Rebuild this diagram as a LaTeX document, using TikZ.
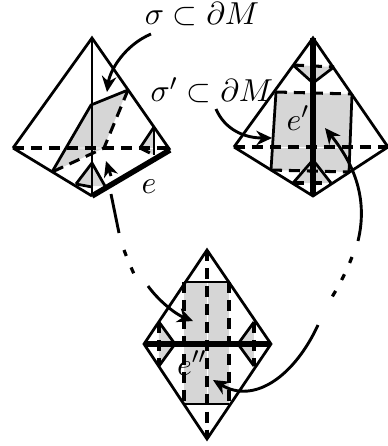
\documentclass[tikz,border=0pt]{standalone}
\usepackage{amsmath}
\usepackage{amsfonts}
\usepackage{amssymb}
\usepackage{xcolor}
\usetikzlibrary{shapes,arrows.meta}
\definecolor{facegrey}{gray}{0.84}
\tikzset{
  edgeline/.style={line width=0.95pt},
  thickedge/.style={line width=1.9pt},
  hiddenline/.style={line width=1.05pt,dash pattern=on 3.8pt off 2.4pt},
  seam/.style={white,line width=0.3pt},
  face/.style={fill=facegrey,draw=none},
  curvearrow/.style={line width=1pt,-{Stealth[length=5.4pt,width=5pt]}},
  curveline/.style={line width=1pt},
  dotline/.style={line width=1.1pt,dash pattern=on 2.2pt off 4.3pt},
  labeltext/.style={font=\fontsize{11}{13}\selectfont,inner sep=0pt}
}
\begin{document}
\begin{tikzpicture}[x=0.345pt,y=-0.345pt]
\useasboundingbox (0,0) rectangle (388,446);
% left tetrahedron
\fill[face] (91,105) -- (128,90) -- (104,148) -- (52,172) -- cycle;
\fill[face] (92,163) -- (76,184) -- (92,186) -- (105,186) -- cycle;
\fill[face] (154,127) -- (140,148) -- (154,155) -- cycle;
\draw[seam] (128,90) -- (104,148) -- (13,148);
\draw[seam] (104,148) -- (170,148);
\draw[edgeline] (13,148) -- (92,38) -- (170,150);
\draw[edgeline] (13,148) -- (92,196);
\draw[edgeline] (92,38) -- (92,196);
\draw[thickedge] (92,196) -- (170,150);
\draw[hiddenline] (13,148) -- (170,148);
\draw[edgeline] (128,90) -- (91,105) -- (52,172);
\draw[hiddenline] (128,90) -- (104,148) -- (52,172);
\draw[edgeline] (76,184) -- (92,163) -- (105,186);
\draw[edgeline] (76,184) -- (92,187);
\draw[edgeline] (154,127) -- (154,155);
\draw[edgeline] (154,127) -- (140,148);
\draw[hiddenline] (140,148) -- (154,155);
%
% right tetrahedron
\fill[face] (276,92) -- (352,94) -- (349,172) -- (271,170) -- cycle;
\fill[face] (293,65) -- (334,67) -- (313,83) -- cycle;
\fill[face] (313,160) -- (293,183) -- (331,183) -- cycle;
\draw[seam] (234,147) -- (388,147);
\draw[edgeline] (234,147) -- (313,38) -- (388,147);
\draw[edgeline] (234,147) -- (313,196) -- (388,147);
\draw[thickedge] (313,38) -- (313,196);
\draw[hiddenline] (234,147) -- (388,147);
\draw[edgeline] (276,92) -- (271,170);
\draw[edgeline] (352,94) -- (349,172);
\draw[hiddenline] (276,92) -- (352,94);
\draw[hiddenline] (271,170) -- (349,172);
\draw[hiddenline] (293,65) -- (334,67);
\draw[edgeline] (293,65) -- (313,83) -- (334,67);
\draw[edgeline] (293,183) -- (313,160) -- (331,183);
\draw[hiddenline] (293,183) -- (331,183);
%
% bottom tetrahedron
\fill[face] (184,282) -- (229,282) -- (229,404) -- (184,404) -- cycle;
\fill[face] (159,322) -- (175,344) -- (159,366) -- cycle;
\fill[face] (254,322) -- (238,344) -- (254,366) -- cycle;
\draw[seam] (207,282) -- (207,404);
\draw[edgeline] (144,344) -- (207,250) -- (271,344) -- (207,439) -- cycle;
\draw[thickedge] (144,344) -- (271,344);
\draw[edgeline] (184,282) -- (229,282);
\draw[edgeline] (184,404) -- (229,404);
\draw[hiddenline] (207,250) -- (207,439);
\draw[hiddenline] (184,282) -- (184,404);
\draw[hiddenline] (229,282) -- (229,404);
\draw[edgeline] (159,322) -- (175,344) -- (159,366);
\draw[edgeline] (254,322) -- (238,344) -- (254,366);
\draw[hiddenline] (159,322) -- (159,366);
\draw[hiddenline] (254,322) -- (254,366);
%
% labels
\node[labeltext] (sigmalabel) at (202,14) {$\sigma\subset\partial M$};
\node[labeltext] (sigmaplabel) at (212,90) {$\sigma'\subset\partial M$};
\node[labeltext] (elabel) at (149,187) {$e$};
\node[labeltext] (eplabel) at (298,118) {$e'$};
\node[labeltext] (epplabel) at (192,363) {$e''$};
%
% arrows
\coordinate (sigmastart) at (151,34);
\coordinate (sigmatip) at (107,92);
\coordinate (sigmapstart) at (216,109);
\coordinate (sigmaptip) at (272,138);
\coordinate (estart) at (111,194);
\coordinate (eend) at (119,233);
\coordinate (etip) at (106,161);
\coordinate (etail) at (111,176);
\coordinate (downstart) at (148,286);
\coordinate (downtip) at (193,321);
\coordinate (rstart) at (358,241);
\coordinate (rtip) at (325,128);
\coordinate (lowstart) at (318,325);
\coordinate (lowtip) at (213,380);
\draw[curvearrow] (sigmastart) .. controls (125,45) and (110,70) .. (sigmatip);
\draw[curvearrow] (sigmapstart) .. controls (225,130) and (245,138) .. (sigmaptip);
\draw[curvearrow] (etail) -- (etip);
\draw[curveline] (estart) -- (eend);
\draw[dotline] (124,250) .. controls (127,258) and (130,265) .. (134,274);
\draw[curvearrow] (downstart) .. controls (158,300) and (175,314) .. (downtip);
\draw[curvearrow] (rstart) .. controls (368,200) and (355,165) .. (rtip);
\draw[dotline] (352,257) .. controls (347,270) and (340,284) .. (332,297);
\draw[curvearrow] (lowstart) .. controls (295,375) and (255,405) .. (lowtip);
\end{tikzpicture}
\end{document}
